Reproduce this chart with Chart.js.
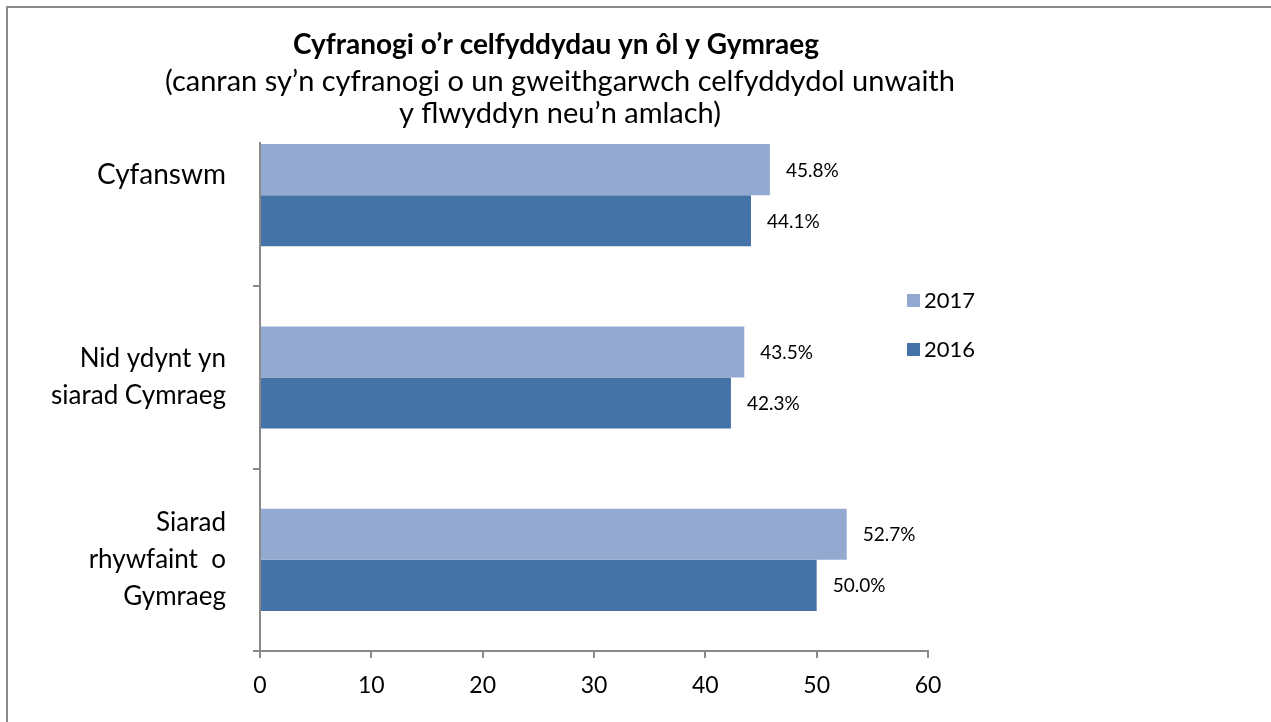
<!DOCTYPE html>
<html lang="cy">
<head>
    <meta charset="UTF-8">
    <title>Cyfranogi o’r celfyddydau yn ôl y Gymraeg</title>
    <script src="https://cdn.jsdelivr.net/npm/chart.js@4/dist/chart.umd.min.js"></script>
    <style>
        body { margin: 0; background: #fff; }
        #wrap { width: 1271px; height: 722px; position: relative; }
    </style>
</head>
<body>
    <div id="wrap">
        <canvas id="myChart" width="1271" height="722"></canvas>
    </div>

    <script>
        // data
        const categories = [
            ['Cyfanswm', ''],
            ['Nid ydynt yn', 'siarad Cymraeg'],
            ['Siarad', 'rhywfaint  o', 'Gymraeg']
        ];
        const years = ['2017', '2016'];
        const values2017 = [45.8, 43.5, 52.7];
        const values2016 = [44.1, 42.3, 50.0];
        const xTicks = [0, 10, 20, 30, 40, 50, 60];

        const titleLines = [
            'Cyfranogi o’r celfyddydau yn ôl y Gymraeg',
            '(canran sy’n cyfranogi o un gweithgarwch celfyddydol unwaith',
            'y flwyddyn neu’n amlach)'
        ];

        const colors = ['#94a9d0', '#4573a7'];
        const axisGrey = '#8a8a8a';
        const font = 'Lato, "Open Sans", sans-serif';

        // frame, title block, value labels and legend
        const extras = {
            id: 'extras',
            afterDraw(chart) {
                const c = chart.ctx;
                const area = chart.chartArea;
                c.save();

                // outer frame (only top and left edges show)
                c.strokeStyle = axisGrey;
                c.lineWidth = 2;
                c.strokeRect(7, 7, 1400, 900);

                // title sits over the top of the plot area
                c.fillStyle = '#fff';
                c.fillRect(area.left - 12, area.top - 4, 24, 142 - area.top + 4);

                c.fillStyle = '#000';
                c.textAlign = 'center';
                c.textBaseline = 'middle';
                c.font = 'bold 28px ' + font;
                c.fillText(titleLines[0], 556, 45);
                c.font = '29px ' + font;
                c.fillText(titleLines[1], 560, 82);
                c.fillText(titleLines[2], 560, 114);

                // value labels to the right of each bar
                c.font = '19px ' + font;
                c.textAlign = 'left';
                chart.data.datasets.forEach((ds, i) => {
                    chart.getDatasetMeta(i).data.forEach((bar, j) => {
                        c.fillText(ds.data[j].toFixed(1) + '%', bar.x + 16, bar.y + 1);
                    });
                });

                // legend
                c.font = '22px ' + font;
                chart.data.datasets.forEach((ds, i) => {
                    const y = 301 + i * 49;
                    c.fillStyle = ds.backgroundColor;
                    c.fillRect(907, y - 7, 13, 13);
                    c.fillStyle = '#000';
                    c.fillText(ds.label, 924, y);
                });

                c.restore();
            }
        };

        const ctx = document.getElementById('myChart').getContext('2d');
        const myChart = new Chart(ctx, {
            type: 'bar',
            data: {
                labels: categories,
                datasets: [
                    { label: years[0], data: values2017, backgroundColor: colors[0] },
                    { label: years[1], data: values2016, backgroundColor: colors[1] }
                ]
            },
            options: {
                indexAxis: 'y',
                responsive: false,
                animation: false,
                categoryPercentage: 0.56,
                barPercentage: 1,
                layout: {
                    padding: { top: 104, right: 343, bottom: 0, left: 0 }
                },
                plugins: {
                    legend: { display: false },
                    title: { display: false },
                    tooltip: { enabled: false }
                },
                scales: {
                    x: {
                        min: 0,
                        max: 60,
                        afterBuildTicks: scale => {
                            scale.ticks = xTicks.map(v => ({ value: v }));
                        },
                        afterFit: scale => { scale.height = 71; },
                        grid: {
                            drawOnChartArea: false,
                            color: axisGrey,
                            lineWidth: 2,
                            tickLength: 7
                        },
                        border: { color: axisGrey, width: 2 },
                        ticks: {
                            color: '#000',
                            padding: 14,
                            font: { family: font, size: 23 }
                        }
                    },
                    y: {
                        afterFit: scale => { scale.width = 260; },
                        grid: {
                            drawOnChartArea: false,
                            color: axisGrey,
                            lineWidth: 2,
                            tickLength: 7
                        },
                        border: { color: axisGrey, width: 2 },
                        ticks: {
                            color: '#000',
                            padding: 27,
                            // the first category label is set a little larger
                            font: ctx => ({
                                family: font,
                                size: ctx.index === 0 ? 28 : 26,
                                lineHeight: 1.42
                            })
                        }
                    }
                }
            },
            plugins: [extras]
        });
    </script>
</body>
</html>
